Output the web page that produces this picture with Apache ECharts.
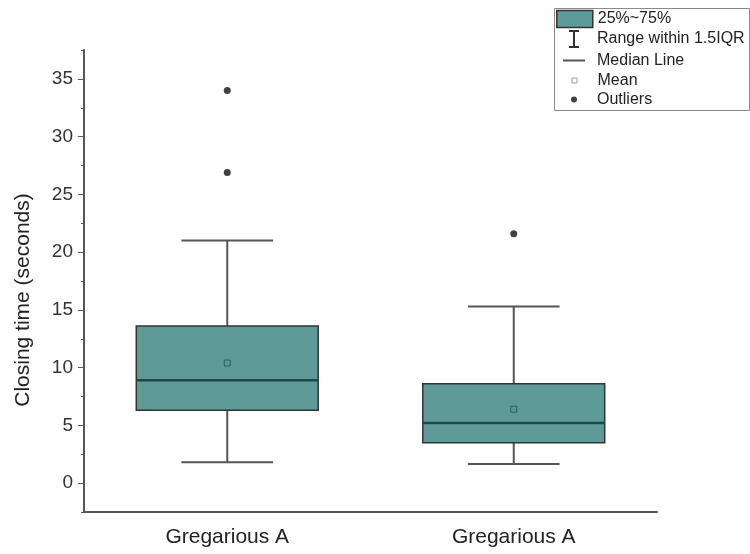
<!DOCTYPE html>
<html>
<head>
<meta charset="utf-8">
<title>Closing time</title>
<script src="https://cdn.jsdelivr.net/npm/echarts@6/dist/echarts.min.js"></script>
<style>
html,body{margin:0;padding:0;background:#fff;}
#main{width:750px;height:554px;}
</style>
</head>
<body>
<div id="main"></div>
<script>
//类别
var categories=["Gregarious A","Gregarious A"];
//箱线图数据
var whiskerLow=[1.8,1.65];
var q1Values=[6.3,3.5];
var medianValues=[8.9,5.2];
var q3Values=[13.6,8.6];
var whiskerHigh=[21,15.3];
var meanValues=[10.4,6.4];
//离群点 [类别序号, 值]
var outlierPoints=[[0,34],[0,26.9],[1,21.6]];
//Y轴刻度
var yTicks=[0,5,10,15,20,25,30,35];
var yMinorTicks=[-2.5,2.5,7.5,12.5,17.5,22.5,27.5,32.5,37.5];

var FONT="Liberation Sans";
var TEAL="#5e9b98";

window.onload=function(){
	var myChart=echarts.init(document.getElementById("main"));

	//组装各系列数据
	var whiskerData=[],boxData=[],medianData=[],meanData=[];
	for(var i=0;i<categories.length;i++){
		whiskerData.push([i,whiskerLow[i],q1Values[i],q3Values[i],whiskerHigh[i]]);
		boxData.push([i,q1Values[i],q3Values[i]]);
		medianData.push([i,medianValues[i]]);
		meanData.push([i,meanValues[i]]);
	}

	//须线
	function renderWhisker(params,api){
		var x=api.value(0);
		var low=api.coord([x,api.value(1)]);
		var q1=api.coord([x,api.value(2)]);
		var q3=api.coord([x,api.value(3)]);
		var high=api.coord([x,api.value(4)]);
		var half=api.size([1,0])[0]*0.16;
		var st={stroke:"#555",lineWidth:2};
		return {type:"group",children:[
			{type:"line",shape:{x1:low[0],y1:low[1],x2:q1[0],y2:q1[1]},style:st},
			{type:"line",shape:{x1:q3[0],y1:q3[1],x2:high[0],y2:high[1]},style:st},
			{type:"line",shape:{x1:low[0]-half,y1:low[1],x2:low[0]+half,y2:low[1]},style:st},
			{type:"line",shape:{x1:high[0]-half,y1:high[1],x2:high[0]+half,y2:high[1]},style:st}
		]};
	}
	//箱体
	function renderBox(params,api){
		var x=api.value(0);
		var bottom=api.coord([x,api.value(1)]);
		var top=api.coord([x,api.value(2)]);
		var w=api.size([1,0])[0]*0.635;
		return {type:"rect",
			shape:{x:top[0]-w/2,y:top[1],width:w,height:bottom[1]-top[1]},
			style:{fill:TEAL,stroke:"#333",lineWidth:1.5}};
	}
	//中位线
	function renderMedian(params,api){
		var p=api.coord([api.value(0),api.value(1)]);
		var w=api.size([1,0])[0]*0.635;
		return {type:"line",
			shape:{x1:p[0]-w/2,y1:p[1],x2:p[0]+w/2,y2:p[1]},
			style:{stroke:"#1d4a47",lineWidth:2.5}};
	}

	//图例 每行一个, 便于控制图标大小
	//图标实际宽度为iw, 按36像素的槽位居中, 文字从597开始
	function legendRow(name,top,icon,iw,h,style){
		return {
			selectedMode:false,
			padding:0,
			left:556+(36-iw)/2,
			top:top,
			itemWidth:36,
			itemHeight:h,
			itemGap:5,
			textStyle:{fontFamily:FONT,fontSize:16,color:"#222",lineHeight:20},
			data:[{name:name,icon:icon,itemStyle:style}]
		};
	}

	var option={
		animation:false,
		textStyle:{fontFamily:FONT},
		grid:{left:84,right:93,top:50,bottom:42},
		legend:[
			legendRow("25%~75%",9,"rect",36,17,{color:TEAL,borderColor:"#333",borderWidth:1.5}),
			legendRow("Range within 1.5IQR",29,"path://M0,0H10V2H6V16H10V18H0V16H4V2H0Z",10,18,{color:"#333"}),
			legendRow("Median Line",50.5,"path://M0,0H22V2H0Z",22,2,{color:"#555"}),
			legendRow("Mean",70.5,"path://M0,0H5V5H0Z",5,5,{color:"#fff",borderColor:"#888",borderWidth:1}),
			legendRow("Outliers",89.5,"circle",6,6,{color:"#111"})
		],
		graphic:[{
			type:"rect",
			shape:{x:554.5,y:8.5,width:195,height:102},
			style:{fill:"none",stroke:"#8a8a8a",lineWidth:1}
		}],
		xAxis:{
			type:"category",
			data:categories,
			boundaryGap:true,
			axisLine:{onZero:false,lineStyle:{color:"#555",width:2}},
			axisTick:{alignWithLabel:true,length:5,lineStyle:{color:"#555"}},
			axisLabel:{fontSize:21,color:"#222",margin:15,fontFamily:FONT},
			splitLine:{show:false}
		},
		yAxis:[{
			type:"value",
			min:-2.5,
			max:37.5,
			name:"Closing time (seconds)",
			nameLocation:"middle",
			nameGap:50,
			nameTextStyle:{fontSize:21,color:"#222",fontFamily:FONT,padding:[0,38,0,0]},
			axisLine:{show:true,lineStyle:{color:"#555",width:2}},
			axisTick:{show:true,length:6,customValues:yTicks,lineStyle:{color:"#555"}},
			axisLabel:{fontSize:19,color:"#333",margin:11,customValues:yTicks,fontFamily:FONT},
			splitLine:{show:false}
		},{
			type:"value",
			position:"left",
			min:-2.5,
			max:37.5,
			axisLine:{show:false},
			axisTick:{show:true,length:3,customValues:yMinorTicks,lineStyle:{color:"#555"}},
			axisLabel:{show:false},
			splitLine:{show:false}
		}],
		series:[{
			name:"Range within 1.5IQR",
			type:"custom",
			renderItem:renderWhisker,
			itemStyle:{color:"#333"},
			encode:{x:0,y:[1,2,3,4]},
			data:whiskerData,
			z:2
		},{
			name:"25%~75%",
			type:"custom",
			renderItem:renderBox,
			itemStyle:{color:TEAL},
			encode:{x:0,y:[1,2]},
			data:boxData,
			z:3
		},{
			name:"Median Line",
			type:"custom",
			renderItem:renderMedian,
			itemStyle:{color:"#555"},
			encode:{x:0,y:1},
			data:medianData,
			z:4
		},{
			name:"Mean",
			type:"scatter",
			symbol:"rect",
			symbolSize:6,
			itemStyle:{color:"#5a9692",borderColor:"#234f4c",borderWidth:1},
			data:meanData,
			z:5
		},{
			name:"Outliers",
			type:"scatter",
			symbol:"circle",
			symbolSize:7,
			itemStyle:{color:"#111"},
			data:outlierPoints,
			z:5
		}]
	};

	myChart.setOption(option);
};
</script>
</body>
</html>
